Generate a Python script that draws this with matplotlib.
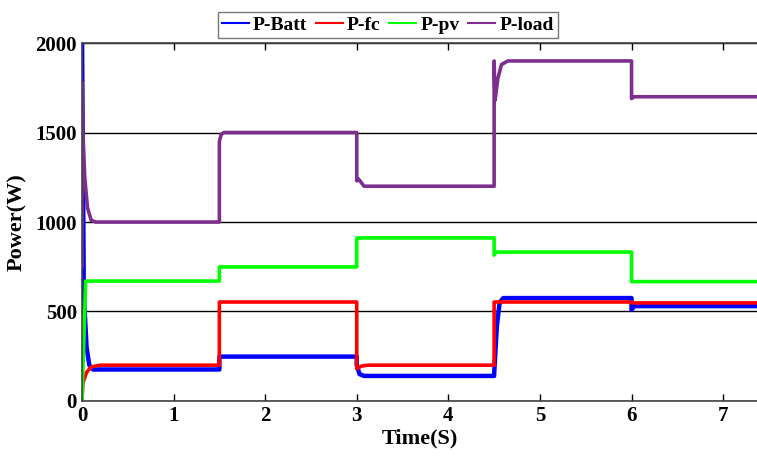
import matplotlib.pyplot as plt

plt.rcParams['font.family'] = 'Liberation Serif'
plt.rcParams['font.weight'] = 'bold'

# breakpoints of each power trace (time in s, power in W)
t_batt = [0, 0.001, 0.02, 0.05, 0.08, 0.12, 1.5, 1.5, 3.0, 3.0, 3.03, 3.08, 4.5, 4.5, 4.53, 4.56, 4.6, 6.0, 6.0, 6.03, 7.37]
p_batt = [2000, 2000, 600, 300, 200, 176, 176, 248, 248, 200, 150, 140, 140, 150, 420, 550, 575, 575, 510, 530, 530]

t_fc = [0, 0.01, 0.05, 0.1, 0.2, 1.5, 1.5, 3.0, 3.0, 3.05, 3.12, 4.5, 4.5, 6.0, 6.0, 7.37]
p_fc = [0, 100, 160, 190, 200, 200, 553, 553, 180, 195, 200, 200, 553, 553, 548, 548]

t_pv = [0, 0.04, 1.5, 1.5, 3.0, 3.0, 4.5, 4.5, 4.52, 6.0, 6.0, 7.37]
p_pv = [0, 670, 670, 749, 749, 911, 911, 815, 832, 832, 667, 667]

t_load = [0, 0.002, 0.01, 0.03, 0.06, 0.1, 0.15, 1.5, 1.5, 1.52, 1.55, 3.0, 3.0, 3.02, 3.08, 4.5, 4.5, 4.51, 4.54, 4.58, 4.65, 6.0, 6.0, 6.03, 7.37]
p_load = [750, 1780, 1500, 1250, 1080, 1010, 1000, 1000, 1450, 1490, 1500, 1500, 1230, 1240, 1200, 1200, 1900, 1680, 1800, 1880, 1900, 1900, 1690, 1700, 1700]

fig = plt.figure(figsize=(7.57, 4.58), dpi=100)
ax = fig.add_axes([0.1083, 0.1245, 0.8917, 0.7815])

ax.plot(t_batt, p_batt, color='#0000ff', lw=3.2, label='P-Batt')
ax.plot(t_fc, p_fc, color='#ff0000', lw=2.6, label='P-fc')
ax.plot(t_pv, p_pv, color='#00ff00', lw=2.6, label='P-pv')
ax.plot(t_load, p_load, color='#7e2f8e', lw=2.6, label='P-load')

ax.set_xlim(0, 7.37)
ax.set_ylim(0, 2000)
ax.set_xticks(range(0, 8))
ax.set_yticks([0, 500, 1000, 1500, 2000])
ax.yaxis.grid(True, color='black', lw=1.0)
ax.set_axisbelow(True)
ax.tick_params(direction='in', top=True, labelsize=15, length=5, width=1)
ax.tick_params(axis='y', left=False)
for side in ['top', 'bottom', 'left']:
    ax.spines[side].set_color('#444444')
    ax.spines[side].set_linewidth(1.2)
ax.spines['right'].set_visible(False)

ax.set_xlabel('Time(S)', fontsize=16, fontweight='bold', labelpad=2)
ax.set_ylabel('Power(W)', fontsize=16, fontweight='bold', labelpad=6)

leg = fig.legend(loc='center', bbox_to_anchor=(0.512, 0.945), ncol=4, fontsize=14,
                 frameon=True, fancybox=False, edgecolor='#555555',
                 handlelength=1.4, handletextpad=0.2, columnspacing=0.45,
                 borderpad=0.2, borderaxespad=0)
for line in leg.get_lines():
    line.set_linewidth(1.5)

fig.savefig('out.png', dpi=100)
